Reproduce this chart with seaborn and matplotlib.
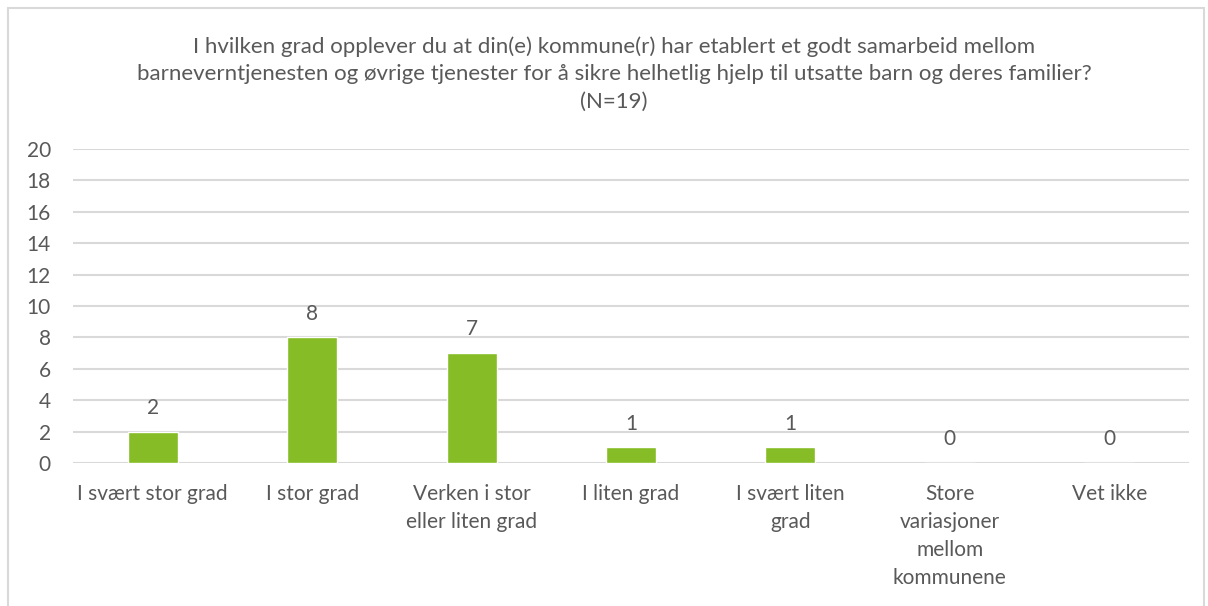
import seaborn as sns
import matplotlib.pyplot as plt
import pandas as pd
from matplotlib.patches import Rectangle

CATEGORIES = ["I svært stor grad", "I stor grad", "Verken i stor\neller liten grad",
              "I liten grad", "I svært liten\ngrad",
              "Store\nvariasjoner\nmellom\nkommunene", "Vet ikke"]
COUNTS = [2, 8, 7, 1, 1, 0, 0]
Y_TICKS = [0, 2, 4, 6, 8, 10, 12, 14, 16, 18, 20]
TITLE = ("I hvilken grad opplever du at din(e) kommune(r) har etablert et godt samarbeid mellom\n"
         "barneverntjenesten og øvrige tjenester for å sikre helhetlig hjelp til utsatte barn og deres familier?\n"
         "(N=19)")

GREEN = "#86bc25"
TEXT = "#595959"
GRID = "#d9d9d9"

sns.set_style("white")
plt.rcParams['font.family'] = ['Lato', 'DejaVu Sans']

df = pd.DataFrame({"kategori": CATEGORIES, "antall": COUNTS})

fig = plt.figure(figsize=(12.08, 6.06), dpi=100)
ax = fig.add_axes([73 / 1208, 1 - 463 / 606, (1189 - 73) / 1208, (463 - 149) / 606])

ax.set_axisbelow(True)
ax.grid(axis='y', color=GRID, linewidth=1.5, zorder=0)

sns.barplot(data=df, x="kategori", y="antall", color=GREEN, width=0.314,
            saturation=1, ax=ax, zorder=3)

for i, v in enumerate(COUNTS):
    ax.annotate(str(v), (i, v), xytext=(0, 17), textcoords='offset points',
                ha='center', va='center', fontsize=15, color=TEXT)

ax.set_ylim(0, 20)
ax.set_xlim(-0.5, len(CATEGORIES) - 0.5)
ax.set_yticks(Y_TICKS)
ax.set_yticklabels([str(t) for t in Y_TICKS], fontsize=15, color=TEXT)
ax.tick_params(axis='y', length=0, pad=16)
ax.tick_params(axis='x', length=0, pad=15, labelsize=15, labelcolor=TEXT)
for lbl in ax.get_xticklabels():
    lbl.set_linespacing(1.5)
ax.set_xlabel("")
ax.set_ylabel("")
for s in ax.spines.values():
    s.set_visible(False)

fig.text(614 / 1208, 1 - 74 / 606, TITLE, ha='center', va='center',
         fontsize=16, color=TEXT, linespacing=1.45)

fig.patches.append(Rectangle((8 / 1208, -0.05), 1196 / 1208, 1 - 8 / 606 + 0.05,
                             transform=fig.transFigure, fill=False,
                             edgecolor=GRID, linewidth=1.5))

fig.savefig("out.png", dpi=100)
